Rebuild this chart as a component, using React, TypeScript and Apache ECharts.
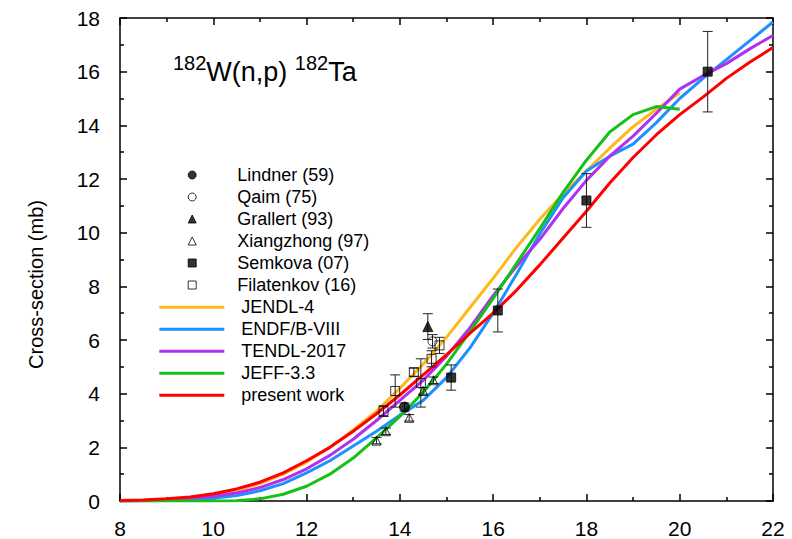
import React, { useEffect, useRef } from 'react';
import * as echarts from 'echarts';

const FONT = "'Liberation Sans', Arial, Helvetica, sans-serif";

// Neutron energy grid (MeV) for evaluated curves
const energies = [8, 8.5, 9, 9.5, 10, 10.5, 11, 11.5, 12, 12.5, 13, 13.5, 14, 14.5, 15, 15.5, 16, 16.5, 17, 17.5, 18, 18.5, 19, 19.5, 20, 20.5, 21, 21.5, 22];

// Cross-sections (mb)
const jendl4 = [0.01, 0.03, 0.06, 0.12, 0.22, 0.4, 0.65, 1.0, 1.45, 2.0, 2.65, 3.35, 4.2, 5.1, 6.1, 7.2, 8.3, 9.45, 10.5, 11.45, 12.3, 13.15, 13.95, 14.6, 15.2];
const endfb8 = [0, 0.01, 0.02, 0.05, 0.1, 0.2, 0.38, 0.65, 1.05, 1.5, 2.05, 2.6, 3.2, 3.75, 4.6, 5.7, 7.0, 8.45, 9.95, 11.3, 12.3, 12.85, 13.3, 14.1, 15.0, 15.75, 16.45, 17.15, 17.85];
const tendl2017 = [0, 0.02, 0.05, 0.1, 0.18, 0.3, 0.5, 0.8, 1.2, 1.7, 2.3, 3.0, 3.75, 4.5, 5.4, 6.45, 7.65, 8.75, 9.75, 10.9, 11.95, 12.85, 13.6, 14.45, 15.35, 15.85, 16.3, 16.85, 17.35];
const jeff33 = [0, 0, 0, 0, 0, 0.01, 0.08, 0.25, 0.55, 1.0, 1.6, 2.35, 3.15, 4.05, 5.1, 6.3, 7.55, 8.85, 10.15, 11.5, 12.7, 13.75, 14.4, 14.7, 14.6];
const presentWork = [0.02, 0.04, 0.08, 0.15, 0.27, 0.45, 0.7, 1.05, 1.5, 2.0, 2.6, 3.25, 3.95, 4.7, 5.45, 6.25, 7.0, 7.85, 8.8, 9.8, 10.8, 11.85, 12.8, 13.65, 14.4, 15.05, 15.75, 16.35, 16.9];

// Experimental data: energy, cross-section, uncertainty
const lindnerE = [14.1];
const lindnerXS = [3.5];
const lindnerErr = [0.15];

const qaimE = [14.7];
const qaimXS = [5.95];
const qaimErr = [0.25];

const grallertE = [14.6];
const grallertXS = [6.5];
const grallertErr = [0.48];

const xiangzhongE = [13.5, 13.7, 14.2, 14.5, 14.72];
const xiangzhongXS = [2.25, 2.6, 3.1, 4.1, 4.5];
const xiangzhongErr = [0.12, 0.12, 0.12, 0.12, 0.12];

const semkovaE = [15.1, 16.1, 18.0, 20.6];
const semkovaXS = [4.6, 7.1, 11.2, 16.0];
const semkovaErr = [0.47, 0.8, 1.0, 1.5];

const filatenkovE = [13.65, 13.9, 14.3, 14.45, 14.68, 14.85];
const filatenkovXS = [3.35, 4.1, 4.8, 4.4, 5.3, 5.8];
const filatenkovErr = [0.2, 0.6, 0.15, 0.9, 0.3, 0.3];

const expNames = ['Lindner (59)', 'Qaim (75)', 'Grallert (93)', 'Xiangzhong (97)', 'Semkova (07)', 'Filatenkov (16)'];
const evalNames = ['JENDL-4', 'ENDF/B-VIII', 'TENDL-2017', 'JEFF-3.3', 'present work'];

const xTicks = { min: 8, max: 22, interval: 2 };
const yTicks = { min: 0, max: 18, interval: 2 };

const pairs = (xs: number[], ys: number[]) => ys.map((y, i) => [xs[i], y]);
const bars = (xs: number[], ys: number[], es: number[]) => ys.map((y, i) => [xs[i], y - es[i], y + es[i]]);

export default function App() {
  const ref = useRef<HTMLDivElement>(null);
  useEffect(() => {
    if (!ref.current) return;
    const chart = echarts.init(ref.current, null, { renderer: 'svg' });

    const axisLine = { show: true, onZero: false, lineStyle: { color: '#000', width: 1.5 } };
    const axisTick = { show: true, inside: true, length: 7, lineStyle: { color: '#000', width: 1.5 } };
    const minorTick = { show: true, splitNumber: 2, length: 4, lineStyle: { color: '#000', width: 1.5 } };

    const lineSeries = (name: string, data: number[], color: string) => ({
      name,
      type: 'line',
      data: pairs(energies, data),
      symbol: 'none',
      showSymbol: false,
      lineStyle: { color, width: 3 },
      itemStyle: { color },
      z: 2,
    });

    const scatter = (name: string, xs: number[], ys: number[], symbol: string, filled: boolean, size: number) => ({
      name,
      type: 'scatter',
      data: pairs(xs, ys),
      symbol,
      symbolSize: size,
      itemStyle: filled
        ? { color: '#000', borderColor: '#000', borderWidth: 1 }
        : { color: 'rgba(0,0,0,0)', borderColor: '#000', borderWidth: 1 },
      z: 5,
    });

    const errorData = [
      ...bars(lindnerE, lindnerXS, lindnerErr),
      ...bars(qaimE, qaimXS, qaimErr),
      ...bars(grallertE, grallertXS, grallertErr),
      ...bars(xiangzhongE, xiangzhongXS, xiangzhongErr),
      ...bars(semkovaE, semkovaXS, semkovaErr),
      ...bars(filatenkovE, filatenkovXS, filatenkovErr),
    ];

    const legendText = (pad: number) => ({ fontSize: 18, color: '#000', fontFamily: FONT, padding: [0, 0, 0, pad] });

    chart.setOption({
      animation: false,
      backgroundColor: '#fff',
      title: {
        text: '{s|182}{m|W(n,p) }{s|182}{m|Ta}',
        left: 173,
        top: 53,
        padding: 0,
        textStyle: {
          fontWeight: 'normal',
          rich: {
            s: { fontSize: 20, fontWeight: 'normal', fontFamily: FONT, color: '#000', padding: [0, 0, 18, 0] },
            m: { fontSize: 27, fontWeight: 'normal', fontFamily: FONT, color: '#000' },
          },
        },
      },
      legend: [
        {
          orient: 'vertical',
          left: 187.7,
          top: 166,
          padding: 0,
          itemWidth: 8,
          itemHeight: 8,
          itemGap: 4,
          selectedMode: false,
          data: expNames,
          textStyle: legendText(36),
          itemStyle: { borderWidth: 1 },
        },
        {
          orient: 'vertical',
          left: 159.3,
          top: 298.3,
          padding: 0,
          itemWidth: 65,
          itemHeight: 3,
          itemGap: 4,
          icon: 'rect',
          selectedMode: false,
          data: evalNames,
          textStyle: legendText(12),
          itemStyle: { borderWidth: 0 },
        },
      ],
      grid: { left: 120, right: 19, top: 18, bottom: 37, containLabel: false },
      xAxis: [
        {
          type: 'value', ...xTicks, position: 'bottom',
          axisLine, axisTick, minorTick,
          splitLine: { show: false },
          axisLabel: { fontSize: 21, color: '#000', fontFamily: FONT, margin: 17 },
        },
        {
          type: 'value', ...xTicks, position: 'top',
          axisLine, axisTick, minorTick,
          splitLine: { show: false },
          axisLabel: { show: false },
        },
      ],
      yAxis: [
        {
          type: 'value', ...yTicks, position: 'left',
          axisLine, axisTick, minorTick,
          splitLine: { show: false },
          axisLabel: { fontSize: 21, color: '#000', fontFamily: FONT, margin: 20 },
          name: 'Cross-section (mb)',
          nameLocation: 'middle',
          nameGap: 74,
          nameRotate: 90,
          nameTextStyle: { fontSize: 20, color: '#000', fontFamily: FONT, padding: [0, 50, 0, 0] },
        },
        {
          type: 'value', ...yTicks, position: 'right',
          axisLine, axisTick, minorTick,
          splitLine: { show: false },
          axisLabel: { show: false },
        },
      ],
      series: [
        lineSeries('JENDL-4', jendl4, '#ffb81c'),
        lineSeries('ENDF/B-VIII', endfb8, '#1e90ff'),
        lineSeries('TENDL-2017', tendl2017, '#b02ff0'),
        lineSeries('JEFF-3.3', jeff33, '#16c016'),
        lineSeries('present work', presentWork, '#ff0000'),
        {
          type: 'custom',
          name: 'error bars',
          data: errorData,
          encode: { x: 0, y: [1, 2] },
          z: 4,
          renderItem: (params: any, api: any) => {
            const x = api.value(0);
            const lo = api.coord([x, api.value(1)]);
            const hi = api.coord([x, api.value(2)]);
            const w = 5;
            const style = { stroke: '#222', lineWidth: 1 };
            return {
              type: 'group',
              children: [
                { type: 'line', shape: { x1: lo[0], y1: lo[1], x2: hi[0], y2: hi[1] }, style },
                { type: 'line', shape: { x1: hi[0] - w, y1: hi[1], x2: hi[0] + w, y2: hi[1] }, style },
                { type: 'line', shape: { x1: lo[0] - w, y1: lo[1], x2: lo[0] + w, y2: lo[1] }, style },
              ],
            };
          },
        },
        scatter('Lindner (59)', lindnerE, lindnerXS, 'circle', true, 10),
        scatter('Qaim (75)', qaimE, qaimXS, 'circle', false, 9),
        scatter('Grallert (93)', grallertE, grallertXS, 'triangle', true, 10),
        scatter('Xiangzhong (97)', xiangzhongE, xiangzhongXS, 'triangle', false, 9),
        scatter('Semkova (07)', semkovaE, semkovaXS, 'rect', true, 9),
        scatter('Filatenkov (16)', filatenkovE, filatenkovXS, 'rect', false, 9),
      ],
    });
    return () => chart.dispose();
  }, []);
  return <div ref={ref} style={{ width: 792, height: 539, position: 'absolute', left: 0, top: 0 }} />;
}
